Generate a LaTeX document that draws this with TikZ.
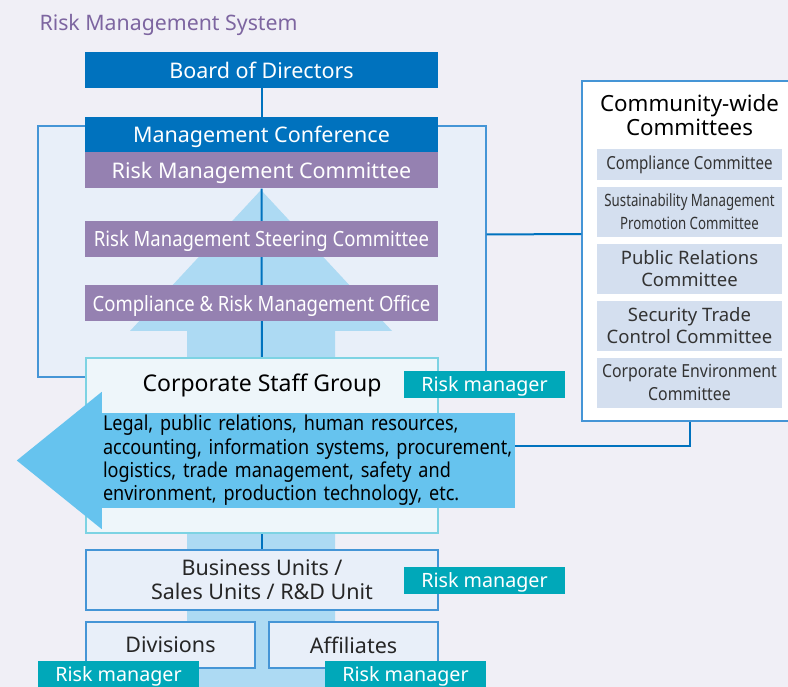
\documentclass[tikz,border=0pt]{standalone}
\usepackage{fontspec}
\setmainfont{Noto Sans}
\newfontfamily\condfont[FakeStretch=0.84]{Noto Sans}
\newfontfamily\medfont[FakeStretch=0.88]{Noto Sans}
\newfontfamily\narrowfont[FakeStretch=0.78]{Noto Sans}
\usetikzlibrary{positioning,backgrounds}
\definecolor{pagebg}{HTML}{F0EFF6}
\definecolor{boardblue}{HTML}{0072BE}
\definecolor{rmpurple}{HTML}{9581B1}
\definecolor{titlepurple}{HTML}{7D65A0}
\definecolor{framefill}{HTML}{E8EFF9}
\definecolor{frameline}{HTML}{4595D6}
\definecolor{flowblue}{HTML}{ADDAF3}
\definecolor{dutyblue}{HTML}{66C3EE}
\definecolor{rmteal}{HTML}{00A8B9}
\definecolor{stafffill}{HTML}{EEF6FA}
\definecolor{staffline}{HTML}{7DD3E3}
\definecolor{cmtfill}{HTML}{D4DFEF}

\begin{document}
\begin{tikzpicture}[
  x=1pt, y=-1pt,
  headbox/.style={fill=boardblue, text=white, minimum width=353pt, minimum height=36pt,
    inner sep=0pt, text depth=0pt, font=\fontsize{21.5}{25}\selectfont},
  riskbox/.style={fill=rmpurple, text=white, minimum width=353pt, minimum height=36pt,
    inner sep=0pt, text depth=0pt, font=\fontsize{21.5}{25}\selectfont},
  unitbox/.style={fill=framefill, draw=frameline, line width=1.2pt, inner sep=0pt,
    align=center, text=black!85, font=\fontsize{21.5}{24}\selectfont},
  rmtag/.style={fill=rmteal, text=white, minimum width=161pt, minimum height=27pt,
    inner sep=0pt, text depth=0pt, font=\fontsize{19.7}{22}\selectfont},
  cmtbox/.style={fill=cmtfill, minimum width=185pt, inner sep=0pt, align=center,
    text=black!80, font=\fontsize{18.5}{22.5}\selectfont},
  link/.style={draw=boardblue, line width=2pt}
]
\clip (0,0) rectangle (788,687);

\node[text=titlepurple, font=\fontsize{21.3}{24}\selectfont, anchor=west] (title) at (36,25) {Risk Management System};

\node[headbox] (board) at (261.5,70) {Board of Directors};
\node[headbox, minimum height=35pt] (mc) at (261.5,134.5) {Management Conference};
\node[riskbox, below=0pt of mc] (rmc) {Risk Management Committee};
\node[riskbox, font=\medfont\fontsize{21}{25}\selectfont] (rmsc) at (261.5,239) {Risk Management Steering Committee};
\node[riskbox, font=\medfont\fontsize{21}{25}\selectfont] (crmo) at (261.5,303) {Compliance \& Risk Management Office};

\node[fill=stafffill, draw=staffline, line width=1.2pt, minimum width=352pt, minimum height=175pt,
  label={[anchor=center, yshift=-28pt, font=\fontsize{23}{26}\selectfont]north:Corporate Staff Group}] (csg) at (262,445.5) {};
\node[rmtag] (rm1) at (484.5,384.5) {Risk manager};

\node[fill=dutyblue, minimum width=413pt, minimum height=95pt, inner xsep=1pt, inner ysep=0pt,
  text width=411pt, align=left, font=\medfont\fontsize{20.5}{23.3}\selectfont] (duties) at (308.5,460.5)
  {Legal, public relations, human resources,\\accounting, information systems, procurement,\\logistics, trade management, safety and\\environment, production technology, etc.};
\fill[dutyblue] ([yshift=21pt]duties.north west) -- ([xshift=-85pt]duties.west) -- ([yshift=-21pt]duties.south west) -- cycle;

\node[unitbox, minimum width=352pt, minimum height=60pt] (bu) at (262,580) {Business Units /\\Sales Units / R\&D Unit};
\node[rmtag] (rm2) at (484.5,580) {Risk manager};
\node[unitbox, minimum width=169pt, minimum height=46pt, text depth=0pt] (div) at (170.5,645) {Divisions};
\node[unitbox, minimum width=169pt, minimum height=46pt, text depth=0pt] (aff) at (353.5,645) {Affiliates};
\node[rmtag] (rm3) at (118.5,674.5) {Risk manager};
\node[rmtag] (rm4) at (405.5,674.5) {Risk manager};

\node[fill=white, draw=frameline, line width=1.2pt, minimum width=215pt, minimum height=340pt] (comm) at (689.5,251) {};
\node[align=center, font=\fontsize{22.3}{24.5}\selectfont] (commtitle) at (689.5,115) {Community-wide\\Committees};
\node[cmtbox, minimum height=31pt, font=\condfont\fontsize{18}{21}\selectfont] (cmt1) at (689.5,164.5) {Compliance Committee};
\node[cmtbox, minimum height=50pt, below=6.5pt of cmt1, font=\narrowfont\fontsize{17}{23}\selectfont] (cmt2) {Sustainability Management\\Promotion Committee};
\node[cmtbox, minimum height=50pt, below=6.5pt of cmt2] (cmt3) {Public Relations\\Committee};
\node[cmtbox, minimum height=50pt, below=6.5pt of cmt3] (cmt4) {Security Trade\\Control Committee};
\node[cmtbox, minimum height=50pt, below=6.5pt of cmt4, font=\medfont\fontsize{18}{22.5}\selectfont] (cmt5) {Corporate Environment\\Committee};

\begin{pgfonlayer}{background}
\fill[pagebg] (0,0) rectangle (788,687);
\node[fill=framefill, draw=frameline, line width=1.2pt, minimum width=448pt, minimum height=251pt] (frame) at (262,251.5) {};
\fill[flowblue] (187,690) -- (187,331) -- (130,331) -- (261,190) -- (392,331) -- (335,331) -- (335,690) -- cycle;
\draw[link] (board) -- (mc);
\draw[link] (rmc) -- (csg);
\draw[link] (csg) -- (bu);
\end{pgfonlayer}

\draw[link] ([yshift=17pt]frame.east) -- ([yshift=17pt]comm.west);
\draw[link] ([yshift=15pt]duties.east) -| (comm.south);
\end{tikzpicture}
\end{document}
